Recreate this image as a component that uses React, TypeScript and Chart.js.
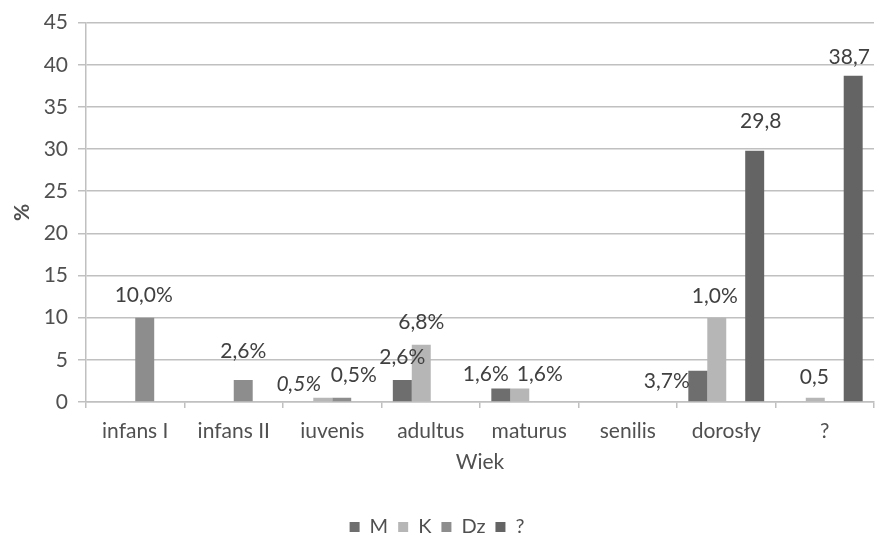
import React, { useEffect, useRef } from "react";
import { Chart, registerables } from "chart.js";

Chart.register(...registerables);

const categories = ["infans I", "infans II", "iuvenis", "adultus", "maturus", "senilis", "dorosły", "?"];
const seriesNames = ["M", "K", "Dz", "?"];
const valuesM = [null, null, null, 2.6, 1.6, null, 3.7, null];
const valuesK = [null, null, 0.5, 6.8, 1.6, null, 10, 0.5];
const valuesDz = [10, 2.6, 0.5, null, null, null, null, null];
const valuesQ = [null, null, null, null, null, null, 29.8, 38.7];
const labelsM = [null, null, null, "2,6%", "1,6%", null, "3,7%", null];
const labelsK = [null, null, "0,5%", "6,8%", "1,6%", null, "1,0%", "0,5"];
const labelsDz = ["10,0%", "2,6%", "0,5%", null, null, null, null, null];
const labelsQ = [null, null, null, null, null, null, "29,8", "38,7"];
const yTicks = [0, 5, 10, 15, 20, 25, 30, 35, 40, 45];

// label placement tweaks (dx, dy from bar top-centre), styling only
const labelOffsets: Record<string, [number, number, boolean?]> = {
  "2-0": [-1, -22],
  "2-1": [0, -29],
  "1-2": [-24, -14, true],
  "2-2": [12, -23],
  "0-3": [0, -23],
  "1-3": [0, -22],
  "0-4": [-15, -14],
  "1-4": [20, -14],
  "0-6": [-31, 10],
  "1-6": [-2, -21],
  "3-6": [6, -30],
  "1-7": [-1, -21],
  "3-7": [-4, -18],
};

const FONT = 'Lato, "Open Sans", sans-serif';
const TEXT = "#505050";
const colors = ["#6e6e6e", "#b6b6b6", "#8d8d8d", "#646464"];
const AXIS_BOTTOM = 402;
const PAD_BOTTOM = -9;

const labelPlugin = {
  id: "barLabels",
  afterDatasetsDraw(chart: any) {
    const ctx = chart.ctx;
    const allLabels = [labelsM, labelsK, labelsDz, labelsQ];
    ctx.save();
    ctx.textAlign = "center";
    ctx.textBaseline = "middle";
    ctx.fillStyle = "#404040";
    allLabels.forEach((labs, di) => {
      const meta = chart.getDatasetMeta(di);
      labs.forEach((t, i) => {
        if (!t) return;
        const el = meta.data[i];
        if (!el) return;
        const off = labelOffsets[`${di}-${i}`] || [0, -22];
        ctx.font = `${off[2] ? "italic " : ""}21px ${FONT}`;
        ctx.fillText(t, el.x + off[0], el.y + off[1]);
      });
    });
    ctx.restore();
  },
};

export default function App() {
  const ref = useRef<HTMLCanvasElement>(null);
  useEffect(() => {
    if (!ref.current) return;
    const chart = new Chart(ref.current, {
      type: "bar",
      data: {
        labels: categories,
        datasets: [valuesM, valuesK, valuesDz, valuesQ].map((d, i) => ({
          label: seriesNames[i],
          data: d,
          backgroundColor: colors[i],
          borderWidth: 0,
          categoryPercentage: 0.77,
          barPercentage: 1,
        })),
      },
      options: {
        animation: false,
        responsive: true,
        maintainAspectRatio: false,
        layout: { padding: { top: 17, right: 8, left: 0, bottom: PAD_BOTTOM } },
        plugins: {
          tooltip: { enabled: false },
          legend: {
            position: "bottom",
            labels: {
              boxWidth: 10,
              boxHeight: 10,
              padding: 10,
              color: TEXT,
              font: { family: FONT, size: 20 },
            },
          },
        },
        scales: {
          x: {
            afterFit: (s: any) => {
              const lh = s.chart.legend ? s.chart.legend.height : 0;
              s.height = s.chart.height - PAD_BOTTOM - lh - AXIS_BOTTOM;
            },
            grid: {
              display: true,
              drawOnChartArea: false,
              drawTicks: true,
              tickLength: 6,
              color: "#c0c0c0",
              lineWidth: 1.5,
            },
            border: { display: true, color: "#c0c0c0", width: 1.5 },
            ticks: { color: TEXT, font: { family: FONT, size: 21 }, padding: 11, maxRotation: 0 },
            title: {
              display: true,
              text: "Wiek",
              color: TEXT,
              font: { family: FONT, size: 21 },
              padding: { top: 2, bottom: 32 },
            },
          },
          y: {
            min: 0,
            max: 45,
            afterBuildTicks: (s: any) => {
              s.ticks = yTicks.map((v) => ({ value: v }));
            },
            afterFit: (s: any) => {
              s.width = 86;
            },
            grid: { color: "#c0c0c0", lineWidth: 1.5, tickLength: 8 },
            border: { display: true, color: "#c0c0c0", width: 1.5 },
            ticks: { color: TEXT, font: { family: FONT, size: 21 }, padding: 10 },
            title: {
              display: true,
              text: "%",
              color: TEXT,
              font: { family: FONT, size: 21, weight: "bold" },
              padding: { top: 10, bottom: 0 },
            },
          },
        },
      },
      plugins: [labelPlugin],
    });
    return () => chart.destroy();
  }, []);
  return (
    <div style={{ position: "absolute", left: 0, top: 0, width: 882, height: 538, background: "#fff" }}>
      <canvas ref={ref} />
    </div>
  );
}
